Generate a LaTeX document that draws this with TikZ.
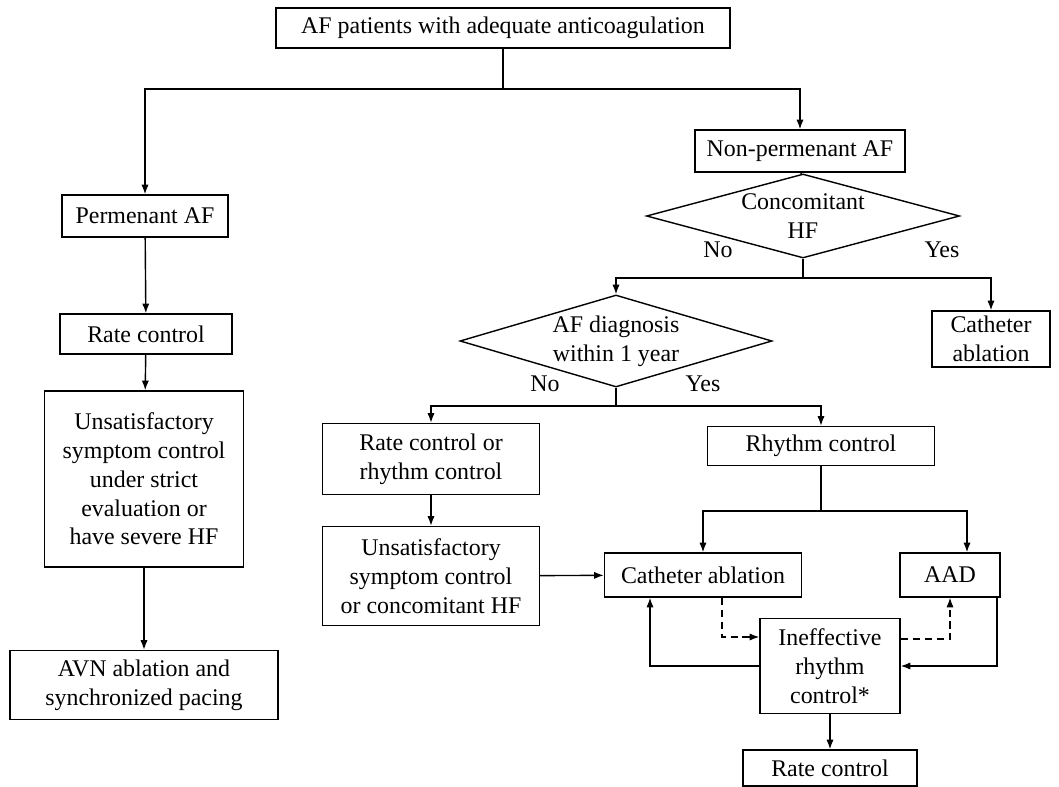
\documentclass[tikz,border=0pt]{standalone}
\usepackage{fontspec}
\setmainfont{Liberation Serif}
\usetikzlibrary{arrows,arrows.meta,positioning,shapes}

\begin{document}
\begin{tikzpicture}[x=0.025cm,y=-0.025cm,>={Latex[length=2.4mm,width=1.8mm]},line width=1pt,
    every node/.style={font=\fontsize{17}{20.5}\selectfont},
    box/.style={draw,align=center,inner sep=2pt},
    choice/.style={draw,diamond,align=center,inner sep=0pt},
    longdash/.style={dash pattern=on 5pt off 3.5pt}]
    \useasboundingbox (0,0) rectangle (1059,787);

    \node[box,minimum width=11.35cm,minimum height=1cm] (start) at (503,28) {AF patients with adequate anticoagulation};

    % left branch
    \node[box,minimum width=4.15cm,minimum height=1.05cm] (perm) at (145,216) {Permenant AF};
    \node[box,minimum width=4.3cm,minimum height=1cm] (rate1) at (146,334) {Rate control};
    \node[box,minimum width=4.975cm,minimum height=4.4cm] (unsat1) at (144,479) {Unsatisfactory\\symptom control\\under strict\\evaluation or\\have severe HF};
    \node[box,minimum width=6.7cm,minimum height=1.725cm] (avn) at (144,685) {AVN ablation and\\synchronized pacing};

    % right branch
    \node[box,minimum width=5.25cm,minimum height=1.05cm] (nonperm) at (800,151) {Non-permenant AF};
    \node[choice,aspect=3.73,minimum width=7.825cm,minimum height=2.1cm] (hf) at (803,216) {Concomitant\\HF};
    \node[box,minimum width=2.95cm,minimum height=1.4cm] (cath1) at (991,339) {Catheter\\ablation};
    \node[choice,aspect=3.39,minimum width=7.8cm,minimum height=2.3cm] (diag) at (616,341) {AF diagnosis\\within 1 year};
    \node[box,minimum width=5.425cm,minimum height=1.775cm] (either) at (431,459) {Rate control or\\rhythm control};
    \node[box,minimum width=5.675cm,minimum height=0.975cm] (rhythm) at (821,446) {Rhythm control};
    \node[box,minimum width=5.425cm,minimum height=2.475cm] (unsat2) at (431,576) {Unsatisfactory\\symptom control\\or concomitant HF};
    \node[box,minimum width=4.925cm,minimum height=1.1cm] (cath2) at (703,575) {Catheter ablation};
    \node[box,minimum width=2.5cm,minimum height=1.1cm] (aad) at (950,575) {AAD};
    \node[box,minimum width=3.5cm,minimum height=2.375cm] (ineff) at (830,666) {Ineffective\\rhythm\\control*};
    \node[box,minimum width=4.35cm,minimum height=0.9cm] (rate2) at (830,768) {Rate control};

    % yes / no labels
    \node (no1) at (718,250) {No};
    \node (yes1) at (942,250) {Yes};
    \node (no2) at (545,384) {No};
    \node (yes2) at (703,384) {Yes};

    % branch points
    \coordinate (split1) at (503,89);
    \coordinate (split2) at (803,278);
    \coordinate (split3) at (616,406);
    \coordinate (split4) at (821,511);

    \draw (start) -- (split1);
    \draw (nonperm) -- (hf);
    \draw (hf) -- (split2);
    \draw (diag) -- (split3);
    \draw (rhythm) -- (split4);

    \foreach \from/\to in {split1/perm,split1/nonperm,split2/cath1,split2/diag,split3/either,split3/rhythm,split4/cath2}
    \draw[->] (\from) -| (\to);
    \draw[->] (split4) -| ([xshift=0.425cm]aad.north);

    \foreach \from/\to in {perm/rate1,rate1/unsat1,unsat1/avn,either/unsat2,unsat2/cath2,ineff/rate2}
    \draw[->] (\from) -- (\to);

    % loops round ineffective rhythm control
    \draw[->] (ineff.west) -| ([xshift=-1.325cm]cath2.south);
    \draw[->] ([xshift=1.175cm]aad.south) |- (ineff.east);
    \draw[->,longdash] ([xshift=0.475cm]cath2.south) |- ([yshift=0.725cm]ineff.west);
    \draw[->,longdash] ([yshift=0.675cm]ineff.east) -| (aad.south);

\end{tikzpicture}
\end{document}
